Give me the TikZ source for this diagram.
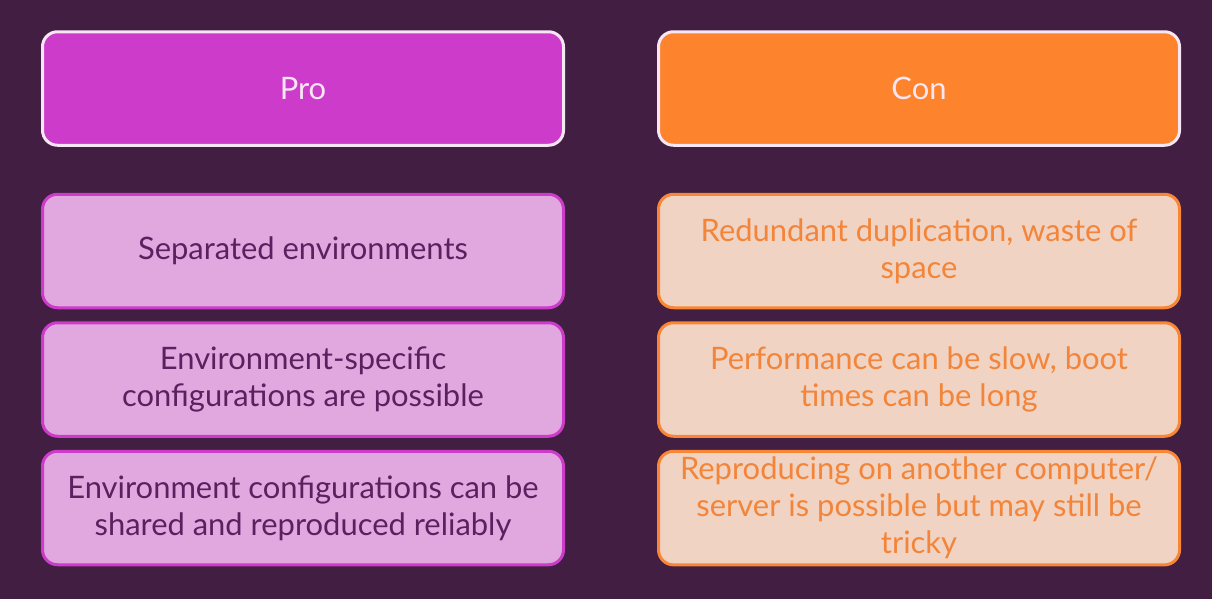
\documentclass[tikz,border=0pt]{standalone}
\usepackage{fontspec}
\setmainfont{Lato}
\usetikzlibrary{positioning}

\definecolor{bgcol}{HTML}{411E42}
\definecolor{prohead}{HTML}{CC3BC9}
\definecolor{profill}{HTML}{E0A8DF}
\definecolor{protext}{HTML}{5A2160}
\definecolor{conhead}{HTML}{FD832C}
\definecolor{confill}{HTML}{F0D3C2}
\definecolor{conline}{HTML}{F88634}
\definecolor{context}{HTML}{F3853A}
\definecolor{headline}{HTML}{F7E6F4}

\begin{document}
\begin{tikzpicture}[%
			font=\fontsize{17.6}{21}\selectfont,
			node distance=0.92cm and 1.84cm,
			card/.style={%
				minimum width=10.42cm,
				minimum height=2.27cm,
				rounded corners=0.3cm,
				line width=0.06cm,
				align=center,
				draw
			},
			headcard/.style={card, draw=headline, text=headline},
			procard/.style={card, fill=profill, draw=prohead, text=protext},
			concard/.style={card, fill=confill, draw=conline, text=context}
			]
			\fill[bgcol] (0,0) rectangle (24.24,-11.98);
			\useasboundingbox (0,0) rectangle (24.24,-11.98);
			
			\node[headcard, fill=prohead] (pro) at (6.06,-1.77) {Pro};
			\node[headcard, fill=conhead] (con) [right= of pro] {Con};
			
			\node[procard] (p1) [below= of pro] {Separated environments};
			\node[procard] (p2) [below=0.24cm of p1] {Environment-specific\\configurations are possible};
			\node[procard] (p3) [below=0.24cm of p2] {Environment configurations can be\\shared and reproduced reliably};
			
			\node[concard] (c1) [below= of con] {Redundant duplication, waste of\\space};
			\node[concard] (c2) [below=0.24cm of c1] {Performance can be slow, boot\\times can be long};
			\node[concard] (c3) [below=0.24cm of c2] {Reproducing on another computer/\\server is possible but may still be\\tricky};
 			\end{tikzpicture}
\end{document}
